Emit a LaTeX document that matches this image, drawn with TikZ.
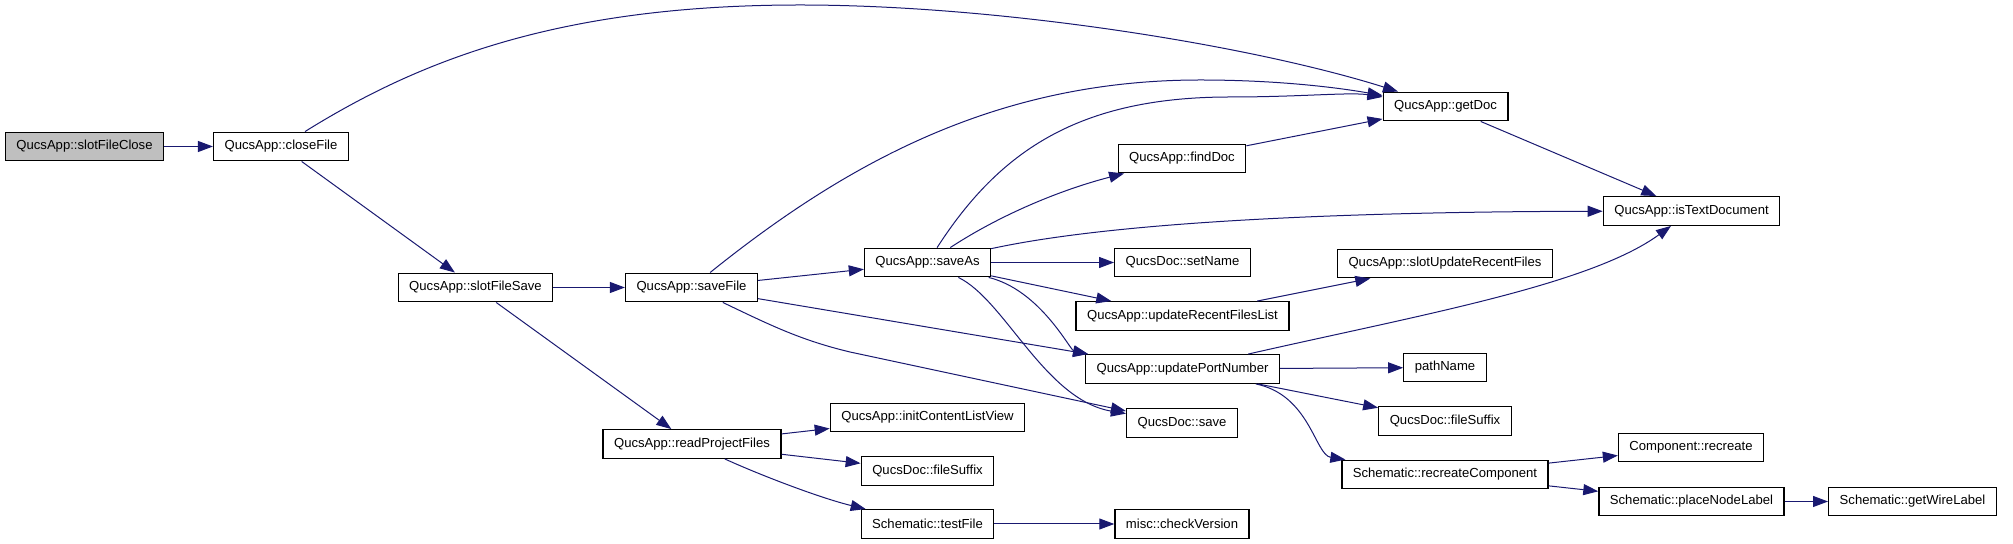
\documentclass[tikz,border=0pt]{standalone}
\usepackage{fontspec}
\setmainfont{Liberation Sans}
\usetikzlibrary{arrows.meta}
\definecolor{navy}{RGB}{25,25,112}
\begin{document}
\begin{tikzpicture}[x=0.5pt,y=-0.5pt,
  fn/.style={draw=black,line width=0.65pt,fill=white,inner xsep=5.5pt,inner ysep=0pt,minimum height=14.3pt,font=\fontsize{6.55}{8}\selectfont},
  root/.style={fn,fill=black!25},
  lnk/.style={-{Triangle[length=7.5pt,width=5.5pt]},draw=navy,line width=0.5pt}]
\useasboundingbox (0,0) rectangle (2013,544);
% functions, column by column
\node[root] (sfc) at (84.5,146.5) {QucsApp::slotFileClose};
\node[fn] (cf) at (281,146.5) {QucsApp::closeFile};
\node[fn] (sfs) at (475.5,287.5) {QucsApp::slotFileSave};
\node[fn] (sf) at (691.5,287.5) {QucsApp::saveFile};
\node[fn] (rpf) at (692,444) {QucsApp::readProjectFiles};
\node[fn] (sa) at (927.5,262.5) {QucsApp::saveAs};
\node[fn] (icl) at (927.5,417.5) {QucsApp::initContentListView};
\node[fn] (fsa) at (927.5,471) {QucsDoc::fileSuffix};
\node[fn] (tf) at (927.5,524) {Schematic::testFile};
\node[fn] (fd) at (1182,158.5) {QucsApp::findDoc};
\node[fn] (sn) at (1182.5,262.5) {QucsDoc::setName};
\node[fn] (urfl) at (1182.5,316) {QucsApp::updateRecentFilesList};
\node[fn] (upn) at (1182.5,369) {QucsApp::updatePortNumber};
\node[fn] (dsv) at (1182,423) {QucsDoc::save};
\node[fn] (cv) at (1182,524) {misc::checkVersion};
\node[fn] (gd) at (1445.5,106.5) {QucsApp::getDoc};
\node[fn] (surf) at (1445,263.5) {QucsApp::slotUpdateRecentFiles};
\node[fn] (pn) at (1445,367.5) {pathName};
\node[fn] (fsb) at (1445,421) {QucsDoc::fileSuffix};
\node[fn] (src) at (1445,474.5) {Schematic::recreateComponent};
\node[fn] (itd) at (1691.5,211) {QucsApp::isTextDocument};
\node[fn] (rc) at (1691,447.5) {Component::recreate};
\node[fn] (pnl) at (1691.5,501.5) {Schematic::placeNodeLabel};
\node[fn] (gwl) at (1912.5,501.5) {Schematic::getWireLabel};
% calls
\draw[lnk] (sfc)--(cf);
\draw[lnk] (cf) .. controls (420,60) and (560,5) .. (800,5) .. controls (1000,5) and (1250,45) .. (gd);
\draw[lnk] (cf)--(sfs);
\draw[lnk] (sfs)--(sf);
\draw[lnk] (sfs)--(rpf);
\draw[lnk] (sf)--(sa);
\draw[lnk] (sf) .. controls (850,160) and (1000,80) .. (1200,80) .. controls (1280,80) and (1340,88) .. (gd);
\draw[lnk] (sf)--(upn.171);
\draw[lnk] (sf) .. controls (770,325) and (800,340) .. (850,352) -- (dsv);
\draw[lnk] (rpf)--(icl);
\draw[lnk] (rpf)--(fsa);
\draw[lnk] (rpf) .. controls (760,475) and (820,498) .. (tf);
\draw[lnk] (tf)--(cv);
\draw[lnk] (sa) .. controls (1000,150) and (1080,97) .. (1230,97) .. controls (1300,97) and (1350,92) .. (gd);
\draw[lnk] (sa) .. controls (1000,215) and (1060,190) .. (fd);
\draw[lnk] (sa) .. controls (1100,225) and (1300,212) .. (itd);
\draw[lnk] (sa)--(sn);
\draw[lnk] (sa)--(urfl);
\draw[lnk] (sa) .. controls (1040,290) and (1070,350) .. (upn.171);
\draw[lnk] (sa) .. controls (1005,300) and (1045,400) .. (dsv);
\draw[lnk] (fd)--(gd);
\draw[lnk] (gd)--(itd);
\draw[lnk] (urfl)--(surf);
\draw[lnk] (upn) .. controls (1420,315) and (1590,285) .. (itd);
\draw[lnk] (upn)--(pn);
\draw[lnk] (upn)--(fsb);
\draw[lnk] (upn) .. controls (1310,395) and (1315,455) .. (src);
\draw[lnk] (src)--(rc);
\draw[lnk] (src)--(pnl);
\draw[lnk] (pnl)--(gwl);
\end{tikzpicture}
\end{document}
